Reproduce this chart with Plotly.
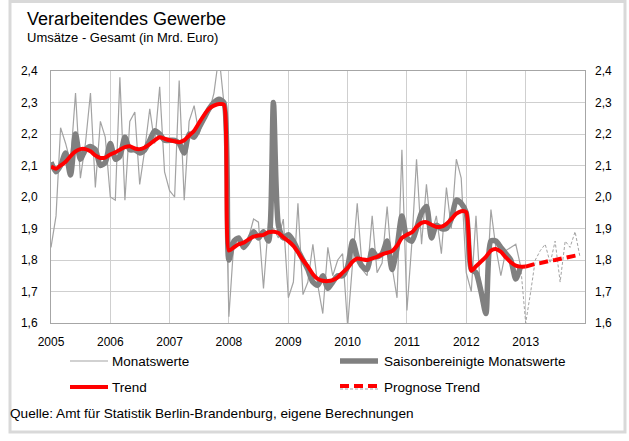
import plotly.graph_objects as go
import pandas as pd

# ---------------- data ----------------
monate = pd.date_range("2005-01-01", "2012-12-01", freq="MS")

monatswerte = [
    1.84, 1.94, 2.22, 2.17, 2.11, 2.33, 2.06, 2.17, 2.33, 2.03, 2.24, 2.19,   # 2005
    2.00, 1.99, 2.38, 1.99, 2.24, 2.27, 2.04, 2.15, 2.28, 2.17, 2.35, 2.08,   # 2006
    2.02, 2.00, 2.37, 1.99, 2.24, 2.29, 2.20, 2.25, 2.27, 2.33, 2.45, 2.30,   # 2007
    1.62, 1.86, 1.85, 1.84, 1.87, 1.93, 1.92, 1.71, 1.92, 1.90, 1.87, 1.93,   # 2008
    1.68, 1.73, 1.98, 1.69, 1.73, 1.85, 1.72, 1.63, 1.84, 1.75, 1.80, 1.82,   # 2009
    1.59, 1.80, 1.98, 1.77, 1.75, 1.94, 1.76, 1.79, 1.97, 1.78, 1.68, 2.15,   # 2010
    1.64, 1.86, 2.12, 1.85, 2.04, 1.88, 1.94, 1.82, 2.03, 1.90, 2.12, 2.06,   # 2011
    1.76, 1.70, 1.94, 1.67, 1.66, 1.96, 1.84, 1.75, 1.83, 1.84, 1.85, 1.78,   # 2012
]

saisonbereinigt = [
    2.11, 2.08, 2.10, 2.14, 2.07, 2.20, 2.12, 2.15, 2.16, 2.15, 2.10, 2.11,   # 2005
    2.17, 2.12, 2.13, 2.19, 2.15, 2.15, 2.14, 2.15, 2.18, 2.21, 2.20, 2.18,   # 2006
    2.18, 2.18, 2.17, 2.14, 2.20, 2.19, 2.22, 2.25, 2.28, 2.30, 2.31, 2.30,   # 2007
    1.80, 1.86, 1.87, 1.84, 1.86, 1.89, 1.87, 1.89, 1.86, 2.30, 1.91, 1.87,   # 2008
    1.88, 1.86, 1.83, 1.80, 1.77, 1.73, 1.72, 1.75, 1.71, 1.73, 1.75, 1.75,   # 2009
    1.78, 1.86, 1.81, 1.78, 1.77, 1.83, 1.81, 1.82, 1.86, 1.77, 1.84, 1.94,   # 2010
    1.87, 1.86, 1.90, 1.95, 1.97, 1.87, 1.91, 1.90, 1.90, 1.93, 1.99, 1.98,   # 2011
    1.95, 1.77, 1.76, 1.70, 1.63, 1.86, 1.86, 1.84, 1.82, 1.80, 1.74, 1.78,   # 2012
]

trend_monate = pd.date_range("2005-01-01", "2013-01-01", freq="MS")
trend = [
    2.097, 2.090, 2.100, 2.112, 2.130, 2.145, 2.152, 2.152, 2.145, 2.132, 2.124, 2.125,  # 2005
    2.135, 2.142, 2.150, 2.158, 2.161, 2.154, 2.152, 2.157, 2.168, 2.180, 2.190, 2.185,  # 2006
    2.180, 2.177, 2.174, 2.180, 2.195, 2.210, 2.235, 2.260, 2.280, 2.290, 2.295, 2.293,  # 2007
    1.830, 1.840, 1.850, 1.855, 1.865, 1.874, 1.878, 1.880, 1.888, 1.890, 1.886, 1.872,  # 2008
    1.860, 1.845, 1.825, 1.800, 1.780, 1.755, 1.740, 1.734, 1.733, 1.736, 1.745, 1.760,  # 2009
    1.775, 1.795, 1.805, 1.802, 1.800, 1.805, 1.810, 1.818, 1.823, 1.828, 1.845, 1.870,  # 2010
    1.880, 1.888, 1.905, 1.918, 1.920, 1.912, 1.905, 1.906, 1.915, 1.930, 1.947, 1.955,  # 2011
    1.952, 1.766, 1.780, 1.795, 1.810, 1.830, 1.835, 1.826, 1.808, 1.793, 1.782, 1.779,  # 2012
    1.779,                                                                               # 2013-01
]

prognose_monate = pd.date_range("2012-12-01", "2013-12-01", freq="MS")
prognose_monatswerte = [1.78, 1.60, 1.70, 1.80, 1.83, 1.85, 1.79, 1.86, 1.73, 1.86, 1.84, 1.89, 1.81]

prognose_trend_monate = pd.date_range("2013-01-01", "2013-12-01", freq="MS")
prognose_trend = [1.779, 1.785, 1.788, 1.790, 1.795, 1.798, 1.800, 1.804, 1.807, 1.810, 1.813, 1.817]

jahre = ["2005", "2006", "2007", "2008", "2009", "2010", "2011", "2012", "2013"]
y_ticks = [1.6, 1.7, 1.8, 1.9, 2.0, 2.1, 2.2, 2.3, 2.4]

# ---------------- styles ----------------
FONT = "Liberation Sans, Arial, sans-serif"
C_RAW = "#a3a3a3"
C_SA = "#808080"
C_RED = "#ff0000"
GRID = "#cfcfcf"
AXLINE = "#a6a6a6"

W, H = 629, 441
L, R, T, B = 51, 44, 71, 118
PW, PH = W - L - R, H - T - B


def px(x):
    return (x - L) / PW


def py(y):
    return (H - B - y) / PH


fig = go.Figure()

fig.add_trace(go.Scatter(x=prognose_monate, y=prognose_monatswerte, mode="lines",
                         line=dict(color=C_RAW, width=1, dash="3px,2px"),
                         showlegend=False, hoverinfo="skip"))
fig.add_trace(go.Scatter(x=monate, y=monatswerte, mode="lines", name="Monatswerte",
                         line=dict(color=C_RAW, width=1.2), showlegend=False))
fig.add_trace(go.Scatter(x=monate, y=saisonbereinigt, mode="lines",
                         name="Saisonbereinigte Monatswerte",
                         line=dict(color=C_SA, width=5.5, shape="spline", smoothing=0.7),
                         showlegend=False))
fig.add_trace(go.Scatter(x=trend_monate, y=trend, mode="lines", name="Trend",
                         line=dict(color=C_RED, width=4, shape="spline", smoothing=0.6),
                         showlegend=False))
fig.add_trace(go.Scatter(x=prognose_trend_monate, y=prognose_trend, mode="lines",
                         name="Prognose Trend",
                         line=dict(color=C_RED, width=4, dash="9px,5px"), showlegend=False))
# invisible trace to activate right axis
fig.add_trace(go.Scatter(x=[monate[0]], y=[y_ticks[0]], yaxis="y2", mode="markers",
                         marker=dict(opacity=0), showlegend=False, hoverinfo="skip"))

tickfont = dict(family=FONT, size=12, color="#000000")
yaxis_common = dict(range=[1.6, 2.4], tickvals=y_ticks, tickformat=".1f",
                    tickfont=tickfont, ticks="", fixedrange=True)

fig.update_layout(
    width=W, height=H,
    margin=dict(l=L, r=R, t=T, b=B, pad=0),
    paper_bgcolor="white", plot_bgcolor="white",
    separators=",.",
    showlegend=False,
    xaxis=dict(range=["2005-01-01", "2014-01-01"],
               tickvals=[f"{j}-01-01" for j in jahre], ticktext=jahre,
               tickfont=tickfont, showgrid=True, gridcolor=GRID, gridwidth=1,
               showline=True, linecolor=AXLINE, linewidth=1, mirror=True,
               ticks="", ticklabelstandoff=8, zeroline=False),
    yaxis=dict(**yaxis_common, showgrid=True, gridcolor=GRID, gridwidth=1,
               showline=True, linecolor=AXLINE, linewidth=1, mirror=True,
               ticklabelstandoff=10, zeroline=False),
    yaxis2=dict(**yaxis_common, overlaying="y", side="right", showgrid=False,
                showline=False, ticklabelstandoff=9, zeroline=False),
)

shapes = []
annotations = []

# outer frame
shapes.append(dict(type="rect", xref="paper", yref="paper",
                   x0=px(10), x1=px(625), y0=py(432), y1=py(1.5),
                   line=dict(color="#d9d9d9", width=3), layer="below"))

# legend samples
def leg_line(x0, x1, y, color, width, dash="solid"):
    shapes.append(dict(type="line", xref="paper", yref="paper",
                       x0=px(x0), x1=px(x1), y0=py(y), y1=py(y),
                       line=dict(color=color, width=width, dash=dash)))

leg_line(70, 108, 361, C_RAW, 1.2)
leg_line(340, 378, 361, C_SA, 5.5)
leg_line(70, 108, 387, C_RED, 4)
leg_line(340, 378, 389, C_RAW, 1, "3px,2px")
leg_line(340, 378, 386, C_RED, 4, "9px,5px")

def txt(x, y, s, size, anchor="left"):
    annotations.append(dict(x=px(x), y=py(y), xref="paper", yref="paper", text=s,
                            showarrow=False, xanchor=anchor, yanchor="middle",
                            font=dict(family=FONT, size=size, color="#000000")))

txt(110, 361, "Monatswerte", 13.5)
txt(382, 361, "Saisonbereinigte Monatswerte", 13.5)
txt(110, 387, "Trend", 13.5)
txt(382, 387, "Prognose Trend", 13.5)
txt(8, 413, "Quelle: Amt für Statistik Berlin-Brandenburg, eigene Berechnungen", 13.6)
txt(25, 19, "Verarbeitendes Gewerbe", 18)
txt(25, 37, "Umsätze - Gesamt (in Mrd. Euro)", 13)

fig.update_layout(shapes=shapes, annotations=annotations)

fig.write_html("out.html", config={"displayModeBar": False},
               post_script="document.body.style.margin='0';")
